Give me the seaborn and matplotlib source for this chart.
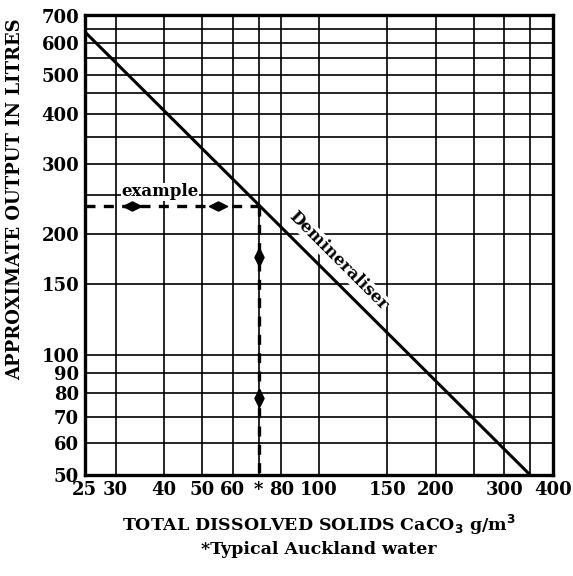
import matplotlib
matplotlib.use("Agg")
import matplotlib.pyplot as plt
import seaborn as sns
import pandas as pd
from matplotlib.ticker import FixedLocator, NullFormatter

# 数据
demin_tds = [25, 350]
demin_output = [640, 50]

example_h_tds = [25, 72]
example_h_output = [235, 235]
example_v_tds = [70, 70]
example_v_output = [235, 50]
arrow_h_tds = [33, 55]
arrow_h_output = [235, 235]
arrow_v_tds = [70, 70]
arrow_v_output = [175, 78]

x_ticks = [25, 30, 40, 50, 60, 70, 80, 100, 150, 200, 300, 400]
x_labels = ["25", "30", "40", "50", "60", "*", "80", "100", "150", "200", "300", "400"]
x_minor = [250, 350]
y_ticks = [50, 60, 70, 80, 90, 100, 150, 200, 300, 400, 500, 600, 700]
y_minor = [250, 350, 450, 550, 650]

sns.set_theme(style="white")
plt.rcParams['font.family'] = ['DejaVu Serif', 'Liberation Serif']
plt.rcParams['font.weight'] = 'bold'

fig = plt.figure(figsize=(5.73, 5.76), dpi=100)
ax = fig.add_axes([0.148, 0.175, 0.817, 0.799])

demin = pd.DataFrame({'tds': demin_tds, 'output': demin_output})
sns.lineplot(data=demin, x='tds', y='output', color='black', linewidth=2.2, ax=ax)

dash = (0, (3, 2.5))
sns.lineplot(x=example_h_tds, y=example_h_output, color='black', linewidth=2.4,
             linestyle=dash, estimator=None, sort=False, ax=ax)
sns.lineplot(x=example_v_tds, y=example_v_output, color='black', linewidth=2.4,
             linestyle=dash, estimator=None, sort=False, ax=ax)

h_diamond = [(-1, 0), (0, 0.5), (1, 0), (0, -0.5), (-1, 0)]
v_diamond = [(0, -1), (0.5, 0), (0, 1), (-0.5, 0), (0, -1)]
sns.scatterplot(x=arrow_h_tds, y=arrow_h_output, marker=h_diamond, s=170,
                color='black', edgecolor='black', ax=ax, zorder=5)
sns.scatterplot(x=arrow_v_tds, y=arrow_v_output, marker=v_diamond, s=170,
                color='black', edgecolor='black', ax=ax, zorder=5)

ax.set_xscale('log')
ax.set_yscale('log')
ax.set_xlim(25, 400)
ax.set_ylim(50, 705)

ax.xaxis.set_major_locator(FixedLocator(x_ticks))
ax.xaxis.set_minor_locator(FixedLocator(x_minor))
ax.set_xticklabels(x_labels)
ax.xaxis.set_minor_formatter(NullFormatter())
ax.yaxis.set_major_locator(FixedLocator(y_ticks))
ax.yaxis.set_minor_locator(FixedLocator(y_minor))
ax.set_yticklabels([str(v) for v in y_ticks])
ax.yaxis.set_minor_formatter(NullFormatter())

ax.grid(which='both', color='black', linewidth=1.2)
ax.tick_params(which='both', length=0, labelsize=13, colors='black', pad=4)
for lab in ax.get_xticklabels() + ax.get_yticklabels():
    lab.set_fontweight('bold')

for s in ax.spines.values():
    s.set_color('black')
    s.set_linewidth(2.4)

ax.set_xlabel(r'TOTAL DISSOLVED SOLIDS CaCO$_\mathbf{3}$ g/m$^\mathbf{3}$' + '\n*Typical Auckland water',
              fontsize=12.5, fontweight='bold', color='black', labelpad=10, linespacing=1.3)
ax.set_ylabel('APPROXIMATE OUTPUT IN LITRES', fontsize=13, fontweight='bold',
              color='black', labelpad=8)
ax.yaxis.set_label_coords(-0.13, 0.6)

ax.text(39, 243, 'example', fontsize=12, fontweight='bold', ha='center', va='bottom',
        color='black', bbox=dict(facecolor='white', edgecolor='none', pad=0.5))
ax.text(112, 172, 'Demineraliser', fontsize=12, fontweight='bold', rotation=-45,
        ha='center', va='center', rotation_mode='anchor', color='black',
        bbox=dict(facecolor='white', edgecolor='none', pad=0.5))

plt.savefig('out.png', dpi=100)
